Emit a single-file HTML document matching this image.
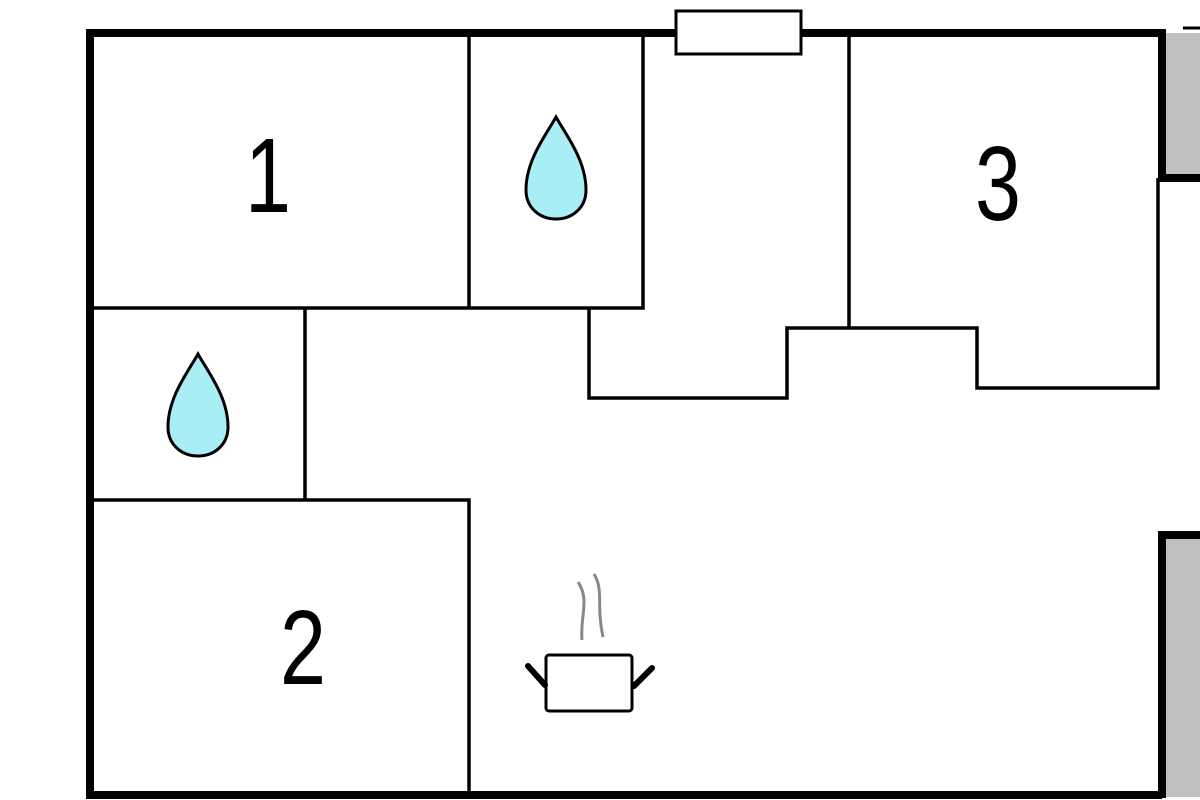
<!DOCTYPE html>
<html><head><style>body{margin:0;background:#fff}svg{display:block}</style></head>
<body>
<svg width="1200" height="800" viewBox="0 0 1200 800" xmlns="http://www.w3.org/2000/svg">
<rect x="1162" y="33" width="40" height="143" fill="#c0c0c0"/>
<rect x="1164" y="537" width="40" height="260" fill="#c0c0c0"/>
<g fill="none" stroke="#000">
<path d="M1162 33 H90 V795 H1162" stroke-width="8"/>
<path d="M1162 29 V178 H1200" stroke-width="8"/>
<path d="M1200 535 H1162 V798" stroke-width="8"/>
<path d="M1183 28 H1200" stroke-width="3"/>
<g stroke-width="3.5">
<path d="M469 37 V308"/>
<path d="M90 308 H643 V37"/>
<path d="M849 37 V328"/>
<path d="M589 308 V398 H787 V328 H977 V388 H1158 V178"/>
<path d="M305 308 V500"/>
<path d="M90 500 H469 V795"/>
</g>
<rect x="676" y="11" width="125" height="43" fill="#fff" stroke-width="3"/>
</g>
<g font-family="Liberation Sans, sans-serif" font-size="106" text-anchor="middle" fill="#000">
<text transform="translate(268 212) scale(0.78 1)">1</text>
<text transform="translate(998 220) scale(0.78 1)">3</text>
<text transform="translate(303 684) scale(0.78 1)">2</text>
</g>
<g fill="#aaeef5" stroke="#000" stroke-width="3">
<path d="M556 117 C546 135 526 160 526 190 C526 208 540 219 556 219 C572 219 586 208 586 190 C586 160 566 135 556 117 Z"/>
<path d="M198 354 C188 372 168 397 168 427 C168 445 182 456 198 456 C214 456 228 445 228 427 C228 397 208 372 198 354 Z"/>
</g>
<g fill="none" stroke="#888" stroke-width="3">
<path d="M578 582 C590 600 580 615 582 640"/>
<path d="M594 574 C604 590 596 605 603 637"/>
</g>
<rect x="546" y="655" width="86" height="56" rx="3" fill="#fff" stroke="#000" stroke-width="3"/>
<g stroke="#000" stroke-width="6" stroke-linecap="round">
<path d="M528 666 L545 685"/>
<path d="M652 668 L634 686"/>
</g>
</svg>
</body></html>
